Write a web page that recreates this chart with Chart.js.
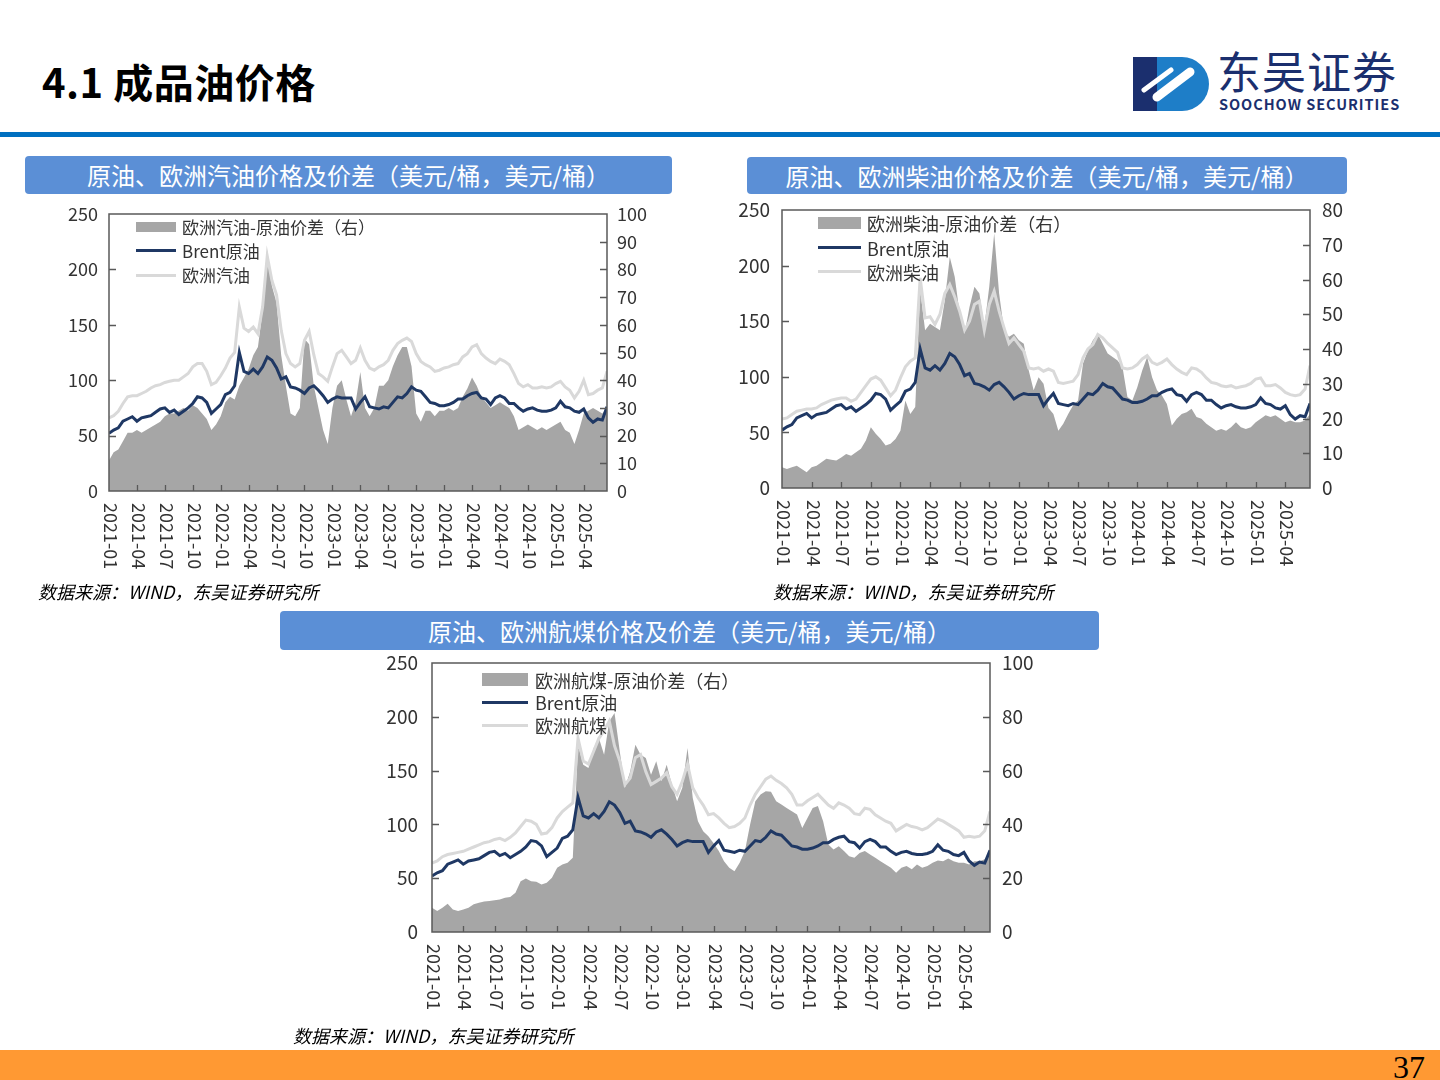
<!DOCTYPE html>
<html><head><meta charset="utf-8">
<script src="https://cdn.jsdelivr.net/npm/chart.js@4.4.1/dist/chart.umd.min.js"></script>
<style>
html,body{margin:0;padding:0;background:#fff;}
body{width:1440px;height:1080px;position:relative;overflow:hidden;font-family:"Noto Sans CJK SC","Noto Sans",sans-serif;}
.abs{position:absolute;}
#title{left:42px;top:53px;font-size:40px;font-weight:700;color:#000;line-height:56px;white-space:nowrap;letter-spacing:0.5px;}
#rule{left:0;top:132px;width:1440px;height:5px;background:#0070c0;}
.hdr{position:absolute;background:#5b8fd6;color:#fff;font-size:24px;text-align:center;border-radius:4px;white-space:nowrap;}
.src{position:absolute;font-size:18px;font-style:italic;color:#000;line-height:26px;white-space:nowrap;}
#foot{left:0;top:1050px;width:1440px;height:30px;background:#ff9933;}
#pg{left:1393px;top:1051px;font-family:"Liberation Serif",serif;font-size:32px;color:#000;line-height:32px;}
.sw{position:absolute;}
.leg{position:absolute;color:#333;white-space:nowrap;line-height:24px;}
.cv{position:absolute;}
#logoCn{left:1217px;top:43px;font-size:44px;color:#1b2f6e;line-height:54px;letter-spacing:1px;white-space:nowrap;}
#logoEn{left:1219px;top:95px;font-size:14.5px;font-weight:700;color:#1b2f6e;line-height:18px;letter-spacing:0.95px;white-space:nowrap;}
</style>
</head>
<body>
<div id="title" class="abs">4.1 成品油价格</div>
<svg class="abs" style="left:1133px;top:57px" width="76" height="54" viewBox="0 0 76 54">
  <rect x="0" y="0" width="40" height="54" fill="#1b2f6e"/>
  <path d="M24 0 H49 A27 27 0 0 1 49 54 H24 Z" fill="#1e7ec8"/>
  <line x1="57" y1="15" x2="24" y2="40" stroke="#fff" stroke-width="9" stroke-linecap="round"/>
  <line x1="38" y1="13" x2="11" y2="33" stroke="#fff" stroke-width="5" stroke-linecap="round"/>
</svg>
<div id="logoCn" class="abs">东吴证券</div>
<div id="logoEn" class="abs">SOOCHOW SECURITIES</div>
<div id="rule" class="abs"></div>

<div class="hdr" style="left:25px;top:156px;width:647px;height:38px;line-height:38px;">原油、欧洲汽油价格及价差（美元/桶，美元/桶）</div>
<div class="hdr" style="left:747px;top:157px;width:600px;height:37px;line-height:37px;">原油、欧洲柴油价格及价差（美元/桶，美元/桶）</div>
<div class="hdr" style="left:280px;top:611px;width:819px;height:39px;line-height:39px;">原油、欧洲航煤价格及价差（美元/桶，美元/桶）</div>

<canvas id="c1" class="cv" width="630" height="390" style="left:30px;top:200px;width:630px;height:390px;"></canvas>
<canvas id="c2" class="cv" width="660" height="395" style="left:700px;top:195px;width:660px;height:395px;"></canvas>
<canvas id="c3" class="cv" width="700" height="380" style="left:360px;top:650px;width:700px;height:380px;"></canvas>

<!-- legends chart 1 -->
<div class="sw" style="left:136px;top:222px;width:40px;height:10px;background:#a6a6a6;"></div>
<div class="leg" style="left:182px;top:215px;font-size:17px;">欧洲汽油-原油价差（右）</div>
<div class="sw" style="left:136px;top:249px;width:40px;height:3px;background:#1f3864;"></div>
<div class="leg" style="left:182px;top:239px;font-size:17px;">Brent原油</div>
<div class="sw" style="left:136px;top:274px;width:40px;height:3px;background:#d9d9d9;"></div>
<div class="leg" style="left:182px;top:263px;font-size:17px;">欧洲汽油</div>
<!-- legends chart 2 -->
<div class="sw" style="left:818px;top:217px;width:43px;height:12px;background:#a6a6a6;"></div>
<div class="leg" style="left:867px;top:211px;font-size:18px;">欧洲柴油-原油价差（右）</div>
<div class="sw" style="left:818px;top:246px;width:43px;height:3px;background:#1f3864;"></div>
<div class="leg" style="left:867px;top:236px;font-size:18px;">Brent原油</div>
<div class="sw" style="left:818px;top:270px;width:43px;height:3px;background:#d9d9d9;"></div>
<div class="leg" style="left:867px;top:260px;font-size:18px;">欧洲柴油</div>
<!-- legends chart 3 -->
<div class="sw" style="left:482px;top:673px;width:46px;height:13px;background:#a6a6a6;"></div>
<div class="leg" style="left:535px;top:668px;font-size:18px;">欧洲航煤-原油价差（右）</div>
<div class="sw" style="left:482px;top:701px;width:46px;height:3px;background:#1f3864;"></div>
<div class="leg" style="left:535px;top:690px;font-size:18px;">Brent原油</div>
<div class="sw" style="left:482px;top:724px;width:46px;height:3px;background:#d9d9d9;"></div>
<div class="leg" style="left:535px;top:713px;font-size:18px;">欧洲航煤</div>

<div class="src" style="left:38px;top:578px;">数据来源：WIND，东吴证券研究所</div>
<div class="src" style="left:773px;top:578px;">数据来源：WIND，东吴证券研究所</div>
<div class="src" style="left:293px;top:1022px;">数据来源：WIND，东吴证券研究所</div>

<div id="foot" class="abs"></div>
<div id="pg" class="abs">37</div>

<script>
// Quarter tick labels on the date axis
const QUARTER_LABELS = ['2021-01','2021-04','2021-07','2021-10','2022-01','2022-04','2022-07','2022-10',
  '2023-01','2023-04','2023-07','2023-10','2024-01','2024-04','2024-07','2024-10','2025-01','2025-04'];

// Semi-monthly samples, 2021-01 .. 2025-06 (USD/bbl)
const BRENT = [
  52, 55, 57, 63, 65, 67, 63, 66, 67, 68, 71, 74,
  75, 71, 73, 69, 72, 75, 79, 85, 84, 80, 70, 74,
  78, 87, 89, 95, 125, 108, 106, 110, 106, 112, 121, 118,
  111, 101, 103, 94, 93, 91, 88, 93, 95, 91, 86, 80,
  83, 85, 84, 84, 84, 74, 80, 85, 76, 75, 74, 76,
  75, 80, 85, 84, 88, 94, 91, 90, 85, 80, 79, 77,
  77, 78, 80, 83, 83, 86, 88, 89, 84, 83, 78, 84,
  86, 84, 79, 79, 75, 72, 74, 75, 73, 72, 72, 73,
  75, 81, 76, 75, 72, 71, 74, 66, 62, 65, 64, 76
];
const GASOLINE = [
  66, 68, 72, 79, 85, 86, 86, 88, 90, 93, 95, 96,
  98, 99, 100, 100, 103, 106, 112, 115, 115, 108, 96, 98,
  104, 111, 120, 125, 166, 147, 144, 148, 142, 166, 212, 190,
  177, 145, 124, 115, 112, 115, 136, 144, 123, 106, 103, 99,
  112, 124, 127, 121, 115, 118, 129, 118, 111, 109, 112, 114,
  118, 127, 133, 136, 138, 135, 124, 117, 114, 112, 108, 109,
  111, 112, 114, 115, 121, 124, 130, 132, 124, 120, 117, 115,
  119, 117, 114, 106, 97, 94, 96, 93, 93, 94, 93, 94,
  97, 99, 94, 91, 84, 90, 100, 87, 88, 91, 93, 108
];
const GASOLINE_SPREAD = [
  11, 14, 15, 18, 21, 21, 22, 21, 22, 23, 24, 25,
  27, 28, 28, 29, 30, 29, 31, 30, 28, 26, 22, 24,
  27, 32, 34, 33, 38, 41, 44, 49, 52, 65, 87, 74,
  68, 49, 38, 28, 27, 30, 55, 53, 38, 30, 22, 17,
  30, 38, 40, 33, 27, 32, 43, 30, 27, 30, 38, 38,
  40, 45, 49, 52, 52, 45, 28, 25, 29, 29, 27, 29,
  29, 30, 29, 30, 34, 37, 41, 38, 34, 32, 30, 31,
  32, 31, 30, 27, 22, 23, 24, 23, 22, 23, 22, 23,
  24, 25, 22, 21, 17, 22, 28, 29, 30, 29, 28, 30
];
const DIESEL = [
  62, 63, 66, 69, 70, 71, 71, 72, 75, 77, 79, 80,
  81, 81, 78, 80, 86, 92, 98, 100, 97, 90, 83, 88,
  99, 109, 114, 117, 189, 153, 154, 147, 156, 175, 183, 172,
  159, 142, 150, 165, 168, 142, 165, 177, 159, 144, 130, 135,
  129, 123, 108, 107, 108, 105, 107, 105, 95, 94, 95, 96,
  102, 117, 125, 129, 138, 135, 130, 126, 122, 108, 107, 108,
  111, 116, 119, 113, 111, 113, 116, 111, 107, 104, 102, 108,
  107, 104, 99, 95, 94, 92, 91, 92, 90, 91, 92, 94,
  98, 99, 92, 92, 93, 90, 86, 84, 83, 84, 89, 110
];
const DIESEL_SPREAD = [
  6, 5.5, 6, 6.4, 5.5, 4.5, 6, 6.4, 7.4, 8.4, 8.1, 7.9,
  8.8, 9.8, 9.3, 10.3, 11.3, 13.7, 17.5, 15.6, 14.1, 12.2, 12.7, 14.1,
  16.5, 25.2, 21.3, 23.3, 57, 45.4, 47.3, 46.3, 45.4, 54, 66.5, 60.8,
  50.2, 44.4, 52.1, 57.9, 56, 46.3, 57.9, 73.3, 56, 45.4, 43.5, 44.4,
  42.5, 41.5, 33.8, 28.1, 31.9, 30, 23, 21.3, 16.5, 18.5, 21.3, 23.8,
  25.2, 35.8, 39.6, 42.5, 44.4, 41.5, 38.7, 37.7, 36.7, 34.8, 26.2, 25.2,
  29, 33.8, 37.7, 31.9, 28.1, 26.6, 24.2, 18, 19.9, 21.3, 21.8, 22.8,
  20.4, 19.9, 18.5, 17.5, 16.5, 17, 16.5, 17.5, 18.9, 17.5, 17, 17.5,
  18.9, 19.9, 20.9, 20.4, 20.9, 19.9, 18.9, 19.4, 18.9, 18.9, 19.4, 21.3
];
const JET = [
  64, 66, 70, 72, 73, 74, 75, 77, 79, 81, 83, 84,
  86, 87, 85, 88, 92, 98, 104, 103, 100, 91, 92, 97,
  106, 112, 116, 120, 180, 159, 156, 168, 180, 187, 196, 173,
  159, 137, 143, 162, 165, 149, 137, 140, 143, 148, 135, 128,
  140, 156, 134, 125, 118, 109, 110, 106, 101, 97, 98, 101,
  106, 118, 128, 135, 142, 145, 141, 138, 134, 128, 118, 118,
  122, 125, 128, 123, 118, 115, 120, 118, 115, 110, 109, 115,
  114, 109, 106, 103, 101, 94, 97, 100, 98, 97, 95, 97,
  101, 105, 103, 100, 97, 94, 88, 89, 88, 89, 94, 112
];
const JET_SPREAD = [
  9, 7.8, 9, 10.5, 8.4, 7.8, 8.4, 9, 10.3, 10.9, 11.3, 11.5,
  11.8, 12.1, 12.7, 13, 14.6, 18.9, 19.9, 18.9, 18.7, 17.7, 18.3, 20.2,
  23.9, 25.1, 25.7, 27.6, 69.6, 62.2, 61, 68.4, 72.1, 65.9, 78.3, 81.4,
  67.2, 53.6, 59.7, 69.6, 65.9, 64.7, 58.5, 63.5, 56, 62.2, 54.8, 48.6,
  53.6, 68.4, 49.8, 41.2, 37.5, 35.6, 33, 30.1, 26.3, 23.9, 22.6, 25.7,
  30.1, 40, 48.6, 51.1, 52.3, 52.1, 48.6, 47.4, 46.1, 44.9, 43.7, 38.7,
  42.4, 46.1, 46.8, 41.2, 32.5, 30.7, 31.9, 30.1, 28.2, 27.6, 29.4, 30.1,
  28.8, 27.6, 26.3, 25.1, 23.9, 22, 23.9, 24.5, 23.3, 25.1, 23.9, 24.5,
  25.7, 26.6, 26.3, 27.3, 26.3, 25.7, 25.7, 25.1, 26.3, 26.3, 27, 28.8
];

const FONT = '"Noto Sans CJK SC","Noto Sans",sans-serif';
Chart.defaults.font.family = FONT;
Chart.defaults.animation = false;

// x position in months since 2021-01 (two samples per month)
function pts(arr){ return arr.map((v,i)=>({x:i/2, y:v})); }

const framePlugin = {
  id: 'frame',
  afterDatasetsDraw(chart, args, opts){
    const {ctx, chartArea:a, scales} = chart;
    ctx.save();
    ctx.strokeStyle = '#595959';
    ctx.lineWidth = 1.5;
    ctx.strokeRect(a.left, a.top, a.right - a.left, a.bottom - a.top);
    ctx.lineWidth = 1.3;
    ctx.beginPath();
    scales.y.ticks.forEach(t => {
      if (t.value <= 0 || t.value >= scales.y.max) return;
      const y = Math.round(scales.y.getPixelForValue(t.value)) + 0.5;
      ctx.moveTo(a.left, y); ctx.lineTo(a.left + 7, y);
    });
    scales.y1.ticks.forEach(t => {
      if (t.value <= 0 || t.value >= scales.y1.max) return;
      const y = Math.round(scales.y1.getPixelForValue(t.value)) + 0.5;
      ctx.moveTo(a.right, y); ctx.lineTo(a.right - 7, y);
    });
    opts.labels.forEach((lab, k) => {
      if (k === 0) return;
      const x = Math.round(scales.x.getPixelForValue(k * 3)) + 0.5;
      ctx.moveTo(x, a.bottom); ctx.lineTo(x, a.bottom - 6);
    });
    ctx.stroke();
    // rotated date labels (read top to bottom)
    ctx.fillStyle = '#333';
    ctx.font = opts.fontSize + 'px ' + FONT;
    ctx.textAlign = 'left';
    ctx.textBaseline = 'middle';
    opts.labels.forEach((lab, k) => {
      const x = scales.x.getPixelForValue(k * 3) + 2;
      ctx.save();
      ctx.translate(x, a.bottom + 12);
      ctx.rotate(Math.PI / 2);
      ctx.fillText(lab, 0, 0);
      ctx.restore();
    });
    ctx.restore();
  }
};

function makeChart(id, c){
  return new Chart(document.getElementById(id), {
    type: 'line',
    data: { datasets: [
      { label: 'Brent原油', data: pts(BRENT), yAxisID: 'y', borderColor: '#1f3864', borderWidth: 3,
        pointRadius: 0, tension: 0, order: 0 },
      { label: c.productLabel, data: pts(c.product), yAxisID: 'y', borderColor: '#d9d9d9', borderWidth: 3,
        pointRadius: 0, tension: 0, order: 1 },
      { label: c.spreadLabel, data: pts(c.spread), yAxisID: 'y1', borderColor: 'rgba(0,0,0,0)', borderWidth: 0,
        backgroundColor: '#a6a6a6', fill: 'origin', pointRadius: 0, tension: 0, order: 2 }
    ]},
    options: {
      responsive: false, animation: false, events: [],
      layout: { padding: { top: c.areaTop, left: 0, right: 0, bottom: 0 } },
      plugins: { legend: { display: false }, tooltip: { enabled: false },
        frame: { labels: QUARTER_LABELS, fontSize: 18 } },
      scales: {
        x: { type: 'linear', min: 0, max: 53.5, grid: { display: false }, border: { display: false },
             ticks: { display: false },
             afterFit(s){ s.height = c.xH; s.paddingLeft = 0; s.paddingRight = 0; } },
        y: { position: 'left', min: 0, max: 250,
             ticks: { stepSize: 50, padding: c.padL, color: '#333', font: { size: c.fs } },
             grid: { display: false, drawTicks: false }, border: { display: false },
             afterFit(s){ s.width = c.yW; s.paddingTop = 0; s.paddingBottom = 0; } },
        y1: { position: 'right', min: 0, max: c.rMax,
             ticks: { stepSize: c.rStep, padding: c.padR, color: '#333', font: { size: c.fs } },
             grid: { display: false, drawTicks: false }, border: { display: false },
             afterFit(s){ s.width = c.y1W; s.paddingTop = 0; s.paddingBottom = 0; } }
      }
    },
    plugins: [framePlugin]
  });
}

makeChart('c1', { productLabel: '欧洲汽油', product: GASOLINE, spreadLabel: '欧洲汽油-原油价差（右）', spread: GASOLINE_SPREAD,
  areaTop: 14, yW: 79, y1W: 53, xH: 99, padL: 11, padR: 10, fs: 18, rMax: 100, rStep: 10 });
makeChart('c2', { productLabel: '欧洲柴油', product: DIESEL, spreadLabel: '欧洲柴油-原油价差（右）', spread: DIESEL_SPREAD,
  areaTop: 15, yW: 82, y1W: 50, xH: 102, padL: 12, padR: 12, fs: 19, rMax: 80, rStep: 10 });
makeChart('c3', { productLabel: '欧洲航煤', product: JET, spreadLabel: '欧洲航煤-原油价差（右）', spread: JET_SPREAD,
  areaTop: 13, yW: 72, y1W: 70, xH: 98, padL: 14, padR: 12, fs: 19, rMax: 100, rStep: 20 });
</script>
</body></html>
